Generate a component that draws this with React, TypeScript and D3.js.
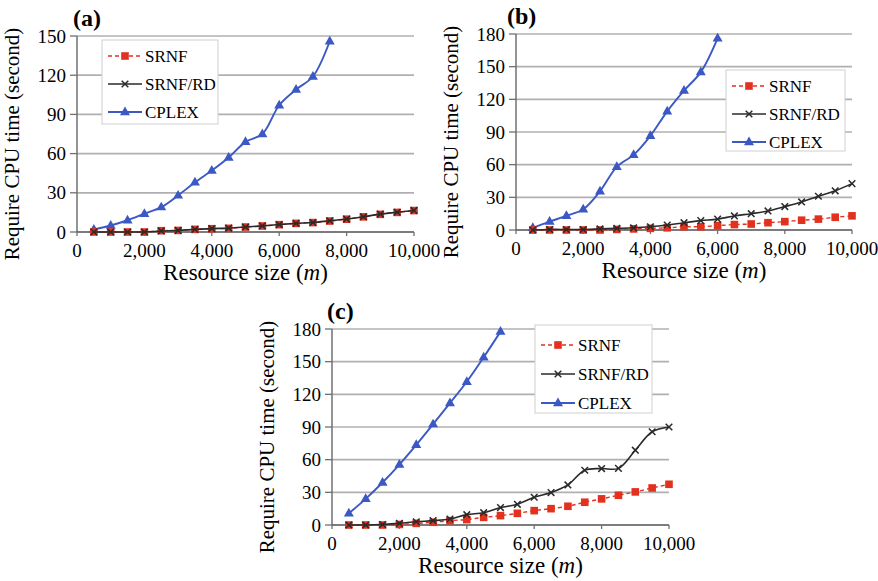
import React from 'react'
import * as d3 from 'd3'

// resource sizes (m)
const xValues = [500, 1000, 1500, 2000, 2500, 3000, 3500, 4000, 4500, 5000,
    5500, 6000, 6500, 7000, 7500, 8000, 8500, 9000, 9500, 10000]

// panel (a)
const aSRNF = [0, 0, 0, 0, 1, 1.2, 2, 2.5, 2.8, 3.8, 4.6, 5.6, 6.6, 7.2, 8.4, 9.8, 11.6, 13.5, 15, 16.4]
const aSRNFRD = [0, 0, 0, 0, 0.8, 1.2, 2, 2.6, 3, 3.8, 4.7, 5.7, 6.6, 7.3, 8.6, 9.9, 11.7, 13.7, 15.1, 16.5]
const aCPLEX = [2, 5, 9, 14, 19, 28, 38, 47, 57, 69, 75, 97, 109, 119, 146]

// panel (b)
const bSRNF = [0, 0, 0, 0, 0, 0.5, 1, 1.5, 2, 3, 3, 4, 5, 5.5, 6.7, 7.7, 9, 10, 11.7, 13]
const bSRNFRD = [0, 0.5, 0.5, 0.5, 1, 1.5, 2, 3, 4.6, 6.7, 8.6, 10, 12.9, 15, 17.5, 21.5, 25.8, 31, 36, 42.6]
const bCPLEX = [2, 7.7, 13, 19, 35.6, 58, 69, 86.5, 109, 128, 145, 176]

// panel (c)
const cSRNF = [0, 0, 0, 0.5, 1.5, 2.5, 4, 5, 7, 8.6, 10.7, 13.2, 15, 17.2, 20.9, 24, 27.3, 30.4, 34, 37.4]
const cSRNFRD = [0, 0, 0.5, 1.5, 3, 4, 5.5, 9.5, 11.3, 16, 19, 25.5, 29.8, 36.8, 50.3, 51.8, 52, 68.7, 85.6, 90]
const cCPLEX = [10.7, 24, 39, 55.5, 73.6, 92.6, 112, 131.6, 154, 177.6]

const xTicks = [0, 2000, 4000, 6000, 8000, 10000]
const yTicksA = [0, 30, 60, 90, 120, 150]
const yTicksBC = [0, 30, 60, 90, 120, 150, 180]
const seriesNames = ['SRNF', 'SRNF/RD', 'CPLEX']

const serif = '"Liberation Serif", "Times New Roman", serif'
const RED = '#e2321f'
const BLACK = '#2a2a2a'
const BLUE = '#3b58c4'

function Marker(props) {
    const { kind, x, y } = props
    if (kind === 'SRNF') {
        return <rect x={x - 3.8} y={y - 3.8} width={7.6} height={7.6} fill={RED} />
    }
    if (kind === 'SRNF/RD') {
        return <path d={`M${x - 3.3},${y - 3.3}L${x + 3.3},${y + 3.3}M${x - 3.3},${y + 3.3}L${x + 3.3},${y - 3.3}`}
            stroke={BLACK} strokeWidth={1.5} />
    }
    return <path d={`M${x},${y - 5.5}L${x + 5},${y + 3.2}L${x - 5},${y + 3.2}Z`} fill={BLUE} />
}

const lineStyle = {
    'SRNF': { stroke: RED, dash: '4,3', width: 1.4 },
    'SRNF/RD': { stroke: BLACK, dash: null, width: 1.6 },
    'CPLEX': { stroke: BLUE, dash: null, width: 1.9 },
}

function Panel(props) {
    const { p } = props
    const x = d3.scaleLinear().domain([0, 10000]).range([p.left, p.right])
    const y = d3.scaleLinear().domain([0, p.yMax]).range([p.bottom, p.top])
    const line = d3.line().curve(d3.curveCatmullRom.alpha(0.5))
    const series = [
        { name: 'CPLEX', vals: p.cplex },
        { name: 'SRNF', vals: p.srnf },
        { name: 'SRNF/RD', vals: p.srnfrd },
    ]
    const cx = (p.left + p.right) / 2
    const cy = (p.top + p.bottom) / 2
    return (
        <g>
            {p.yTicks.map(t => t > 0 &&
                <line key={'g' + t} x1={p.left} x2={p.right} y1={y(t)} y2={y(t)} stroke="#b0b0b0" strokeWidth={1.7} />)}
            {/* axes */}
            <line x1={p.left} x2={p.left} y1={p.top} y2={p.bottom} stroke="#707070" strokeWidth={1.5} />
            <line x1={p.left} x2={p.right} y1={p.bottom} y2={p.bottom} stroke="#505050" strokeWidth={1.6} />
            {p.yTicks.map(t =>
                <g key={'y' + t}>
                    <line x1={p.left - 7} x2={p.left} y1={y(t)} y2={y(t)} stroke="#707070" strokeWidth={1.3} />
                    <text x={p.left - 11} y={y(t)} dy="0.35em" textAnchor="end" fontFamily={serif} fontSize={19}>{t}</text>
                </g>)}
            {xTicks.map(t =>
                <g key={'x' + t}>
                    <line x1={x(t)} x2={x(t)} y1={p.bottom} y2={p.bottom + 4} stroke="#707070" strokeWidth={1.3} />
                    <text x={x(t)} y={p.bottom + 25} textAnchor="middle" fontFamily={serif} fontSize={19}>{d3.format(',')(t)}</text>
                </g>)}
            <text x={cx} y={p.bottom + 48} textAnchor="middle" fontFamily={serif} fontSize={23}>
                Resource size (<tspan fontStyle="italic">m</tspan>)
            </text>
            <text transform={`translate(${p.left - 58},${cy + 10}) rotate(-90)`} textAnchor="middle"
                fontFamily={serif} fontSize={21}>Require CPU time (second)</text>
            <text x={p.left - p.labelOff} y={p.top - 10} fontFamily={serif} fontSize={24} fontWeight="bold">{p.label}</text>

            {series.map(s => {
                const pts = s.vals.map((v, i) => [x(xValues[i]), y(v)])
                const st = lineStyle[s.name]
                return (
                    <g key={s.name}>
                        <path d={line(pts)} fill="none" stroke={st.stroke} strokeWidth={st.width} strokeDasharray={st.dash} />
                        {pts.map((q, i) => <Marker key={i} kind={s.name} x={q[0]} y={q[1]} />)}
                    </g>
                )
            })}

            {/* legend */}
            <rect x={p.lx} y={p.ly} width={p.lw} height={p.lh} fill="white" stroke="#d0d0d0" strokeWidth={1} />
            {seriesNames.map((n, i) => {
                const ry = p.ly + p.lTop + i * p.lGap
                const st = lineStyle[n]
                return (
                    <g key={n}>
                        <line x1={p.lx + 6} x2={p.lx + 40} y1={ry} y2={ry} stroke={st.stroke} strokeWidth={st.width} strokeDasharray={st.dash} />
                        <Marker kind={n} x={p.lx + 23} y={ry} />
                        <text x={p.lx + 43} y={ry} dy="0.35em" fontFamily={serif} fontSize={17}>{n}</text>
                    </g>
                )
            })}
        </g>
    )
}

const panels = [
    { label: '(a)', labelOff: 4, left: 77, right: 414, top: 36, bottom: 232, yMax: 150, yTicks: yTicksA,
        srnf: aSRNF, srnfrd: aSRNFRD, cplex: aCPLEX, lx: 102, ly: 40, lw: 116, lh: 84, lTop: 16, lGap: 28 },
    { label: '(b)', labelOff: 9, left: 516, right: 852, top: 34, bottom: 230, yMax: 180, yTicks: yTicksBC,
        srnf: bSRNF, srnfrd: bSRNFRD, cplex: bCPLEX, lx: 726, ly: 70, lw: 119, lh: 81, lTop: 16, lGap: 28 },
    { label: '(c)', labelOff: 5, left: 332, right: 669, top: 329, bottom: 525, yMax: 180, yTicks: yTicksBC,
        srnf: cSRNF, srnfrd: cSRNFRD, cplex: cCPLEX, lx: 535, ly: 325, lw: 117, lh: 88, lTop: 20, lGap: 29 },
]

export default function App() {
    return (
        <svg width={878} height={581} style={{ position: 'absolute', left: 0, top: 0, background: 'white' }}>
            {panels.map(p => <Panel key={p.label} p={p} />)}
        </svg>
    )
}
